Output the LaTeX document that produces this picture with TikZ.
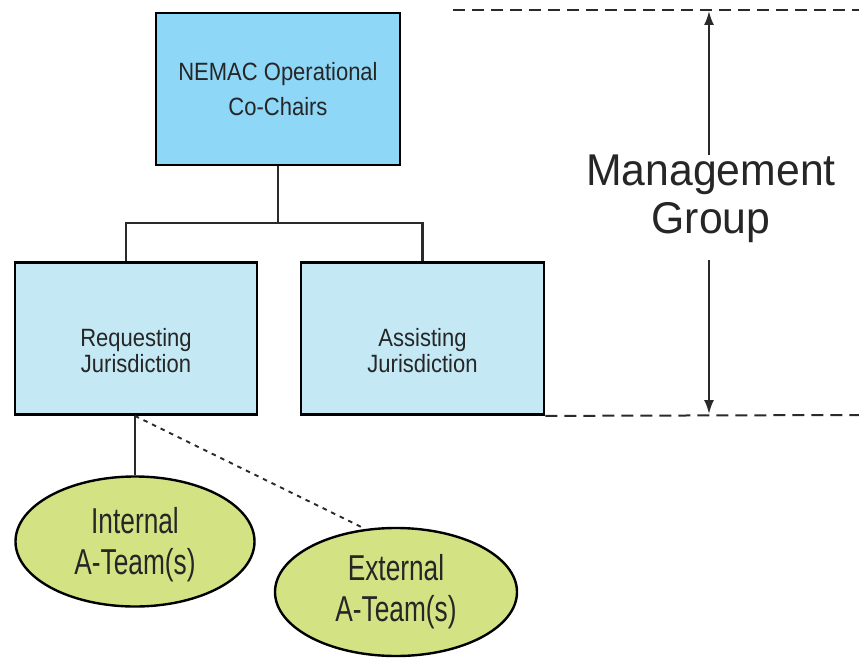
\documentclass[tikz,border=0pt]{standalone}
\usepackage{fontspec}
\setmainfont{Liberation Sans}
\newfontfamily\boxfont[FakeStretch=0.88]{Liberation Sans}
\newfontfamily\ellfont[FakeStretch=0.73]{Liberation Sans}
\newfontfamily\mgfont[FakeStretch=0.96]{Liberation Sans}
\usetikzlibrary{arrows.meta,shapes.geometric}
\definecolor{topblue}{HTML}{8ED7F7}
\definecolor{lightblue}{HTML}{C4E8F4}
\definecolor{ellgreen}{HTML}{D3E283}
\definecolor{txt}{HTML}{262626}
\definecolor{ln}{HTML}{2A2A2A}
\tikzset{
  boxstyle/.style={draw=black, line width=2.8pt, rectangle, inner sep=0pt},
  ellstyle/.style={draw=black, line width=2.4pt, ellipse, inner sep=0pt, fill=ellgreen},
  boxtext/.style={font=\boxfont\fontsize{25}{35}\selectfont, text=txt, align=center},
  lowtext/.style={font=\boxfont\fontsize{25}{26}\selectfont, text=txt, align=center},
  elltext/.style={font=\ellfont\fontsize{36}{41}\selectfont, text=txt, align=center},
  conn/.style={draw=ln, line width=2.1pt},
  dotconn/.style={draw=ln, line width=1.9pt, dash pattern=on 4.5pt off 5pt},
  guide/.style={draw=ln, line width=2pt, dash pattern=on 12pt off 7pt},
  arr/.style={draw=ln, line width=2pt, -{Latex[length=14pt,width=10pt]}}
}
\begin{document}
\begin{tikzpicture}[x=1pt,y=-1pt]
\useasboundingbox (0,0) rectangle (859,658);
% boxes
\node[boxstyle, fill=topblue, minimum width=244pt, minimum height=152pt,
      label={[boxtext]center:NEMAC Operational\\Co-Chairs}] (top) at (278,89) {};
\node[boxstyle, fill=lightblue, minimum width=242pt, minimum height=152pt,
      label={[lowtext, yshift=-12.5pt]center:Requesting\\Jurisdiction}] (req) at (136,338.5) {};
\node[boxstyle, fill=lightblue, minimum width=243pt, minimum height=152pt,
      label={[lowtext, yshift=-12pt]center:Assisting\\Jurisdiction}] (asst) at (422.5,338.5) {};
% ellipses
\node[ellstyle, minimum width=239pt, minimum height=130pt,
      label={[elltext, yshift=-3pt]center:Internal\\A-Team(s)}] (int) at (135,541.5) {};
\node[ellstyle, minimum width=242pt, minimum height=128pt,
      label={[elltext]center:External\\A-Team(s)}] (ext) at (396,592) {};
% tree connectors
\draw[conn] (top.south) -- (top.south |- 0,223) -| ([xshift=-10pt]req.north);
\draw[conn] (top.south |- 0,223) -| (asst.north);
\draw[conn] (int.north |- req.south) -- (int.north);
\draw[dotconn] ([xshift=-1pt]req.south) -- (ext.116);
% management group
\node[font=\mgfont\fontsize{44.5}{48}\selectfont, text=txt, align=center] (mg) at (711,199) {Management\\Group};
\coordinate (g1a) at (453,10);
\coordinate (g1b) at (859,10);
\coordinate (g2b) at (859,415);
\coordinate (atop) at (709,11);
\coordinate (abot) at (709,414);
\coordinate (mgup) at (709,155);
\coordinate (mgdn) at (709,260);
\draw[guide] (g1a) -- (g1b);
\draw[guide] (asst.south east) -- (g2b);
\draw[arr] (mgup) -- (atop);
\draw[arr] (mgdn) -- (abot);
\end{tikzpicture}
\end{document}
